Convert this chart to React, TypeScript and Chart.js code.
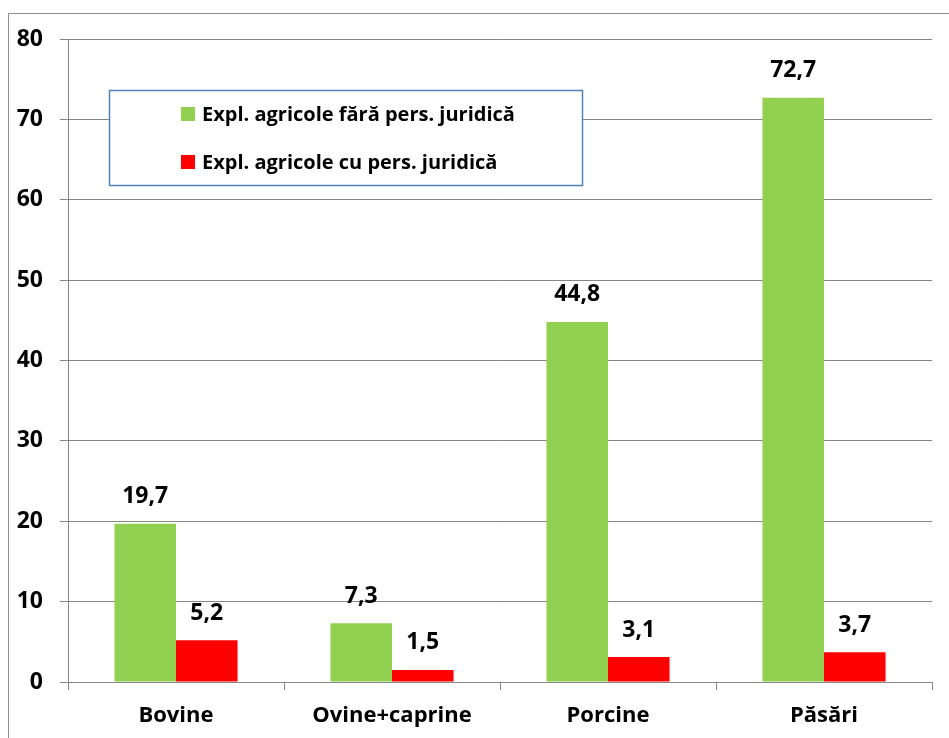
import React, { useEffect, useRef } from "react";
import { Chart, registerables } from "chart.js";

Chart.register(...registerables);

const categories = ["Bovine", "Ovine+caprine", "Porcine", "Păsări"];
const seriesNames = ["Expl. agricole fără pers. juridică", "Expl. agricole cu pers. juridică"];
const fara = [19.7, 7.3, 44.8, 72.7];
const cu = [5.2, 1.5, 3.1, 3.7];
const colors = ["#92D050", "#FF0000"];
const yTicks = [0, 10, 20, 30, 40, 50, 60, 70, 80];

const FONT = "'Open Sans', Lato, sans-serif";

const bgPlugin = {
  id: "bgBorder",
  beforeDraw(chart: any) {
    const ctx = chart.ctx;
    ctx.save();
    ctx.fillStyle = "#ffffff";
    ctx.fillRect(0, 0, chart.width, chart.height);
    ctx.strokeStyle = "#8c8c8c";
    ctx.lineWidth = 1;
    ctx.strokeRect(8.5, 13.5, 2000, 2000);
    ctx.restore();
  },
};

const labelPlugin = {
  id: "valueLabels",
  afterDatasetsDraw(chart: any) {
    const ctx = chart.ctx;
    ctx.save();
    ctx.font = `bold 23px ${FONT}`;
    ctx.fillStyle = "#000";
    ctx.textAlign = "center";
    ctx.textBaseline = "middle";
    chart.data.datasets.forEach((ds: any, i: number) => {
      const meta = chart.getDatasetMeta(i);
      meta.data.forEach((bar: any, j: number) => {
        const v = ds.data[j];
        ctx.fillText(String(v).replace(".", ","), bar.x, bar.y - 27);
      });
    });
    ctx.restore();
  },
};

const legendPlugin = {
  id: "customLegend",
  afterDraw(chart: any) {
    const ctx = chart.ctx;
    ctx.save();
    ctx.fillStyle = "#ffffff";
    ctx.fillRect(109, 90, 474, 96);
    ctx.strokeStyle = "#4F81BD";
    ctx.lineWidth = 1.5;
    ctx.strokeRect(109.5, 90.5, 473, 95);
    const rows = [114, 162];
    ctx.font = `bold 20px ${FONT}`;
    ctx.textBaseline = "middle";
    ctx.textAlign = "left";
    seriesNames.forEach((name, i) => {
      ctx.fillStyle = colors[i];
      ctx.fillRect(181, rows[i] - 7, 14, 14);
      ctx.fillStyle = "#000";
      ctx.fillText(name, 202, rows[i] + 1);
    });
    ctx.restore();
  },
};

export default function App() {
  const ref = useRef<HTMLCanvasElement>(null);
  useEffect(() => {
    if (!ref.current) return;
    const chart = new Chart(ref.current, {
      type: "bar",
      data: {
        labels: categories,
        datasets: [
          { label: seriesNames[0], data: fara, backgroundColor: colors[0], categoryPercentage: 0.57, barPercentage: 1 },
          { label: seriesNames[1], data: cu, backgroundColor: colors[1], categoryPercentage: 0.57, barPercentage: 1 },
        ],
      },
      options: {
        animation: false,
        responsive: false,
        maintainAspectRatio: false,
        layout: { padding: { left: 0, top: 39, right: 17, bottom: 0 } },
        plugins: { legend: { display: false }, tooltip: { enabled: false } },
        scales: {
          x: {
            grid: { display: true, drawOnChartArea: false, drawTicks: true, tickLength: 8, color: "#868686", offset: true },
            border: { display: true, color: "#868686", width: 1 },
            ticks: { color: "#000", font: { family: FONT, size: 22, weight: "bold" }, padding: 13 },
            afterFit(scale: any) { scale.height = 56; },
          },
          y: {
            min: 0,
            max: 80,
            afterBuildTicks(scale: any) { scale.ticks = yTicks.map((v) => ({ value: v })); },
            grid: { color: "#868686", tickLength: 8, lineWidth: 1 },
            border: { display: true, color: "#868686", width: 1 },
            ticks: { color: "#000", font: { family: FONT, size: 23, weight: "bold" }, padding: 17 },
            afterFit(scale: any) { scale.width = 68; },
          },
        },
      },
      plugins: [bgPlugin, labelPlugin, legendPlugin],
    });
    return () => chart.destroy();
  }, []);
  return (
    <div style={{ position: "absolute", left: 0, top: 0, width: 949, height: 738 }}>
      <canvas ref={ref} width={949} height={738} style={{ display: "block" }} />
    </div>
  );
}
